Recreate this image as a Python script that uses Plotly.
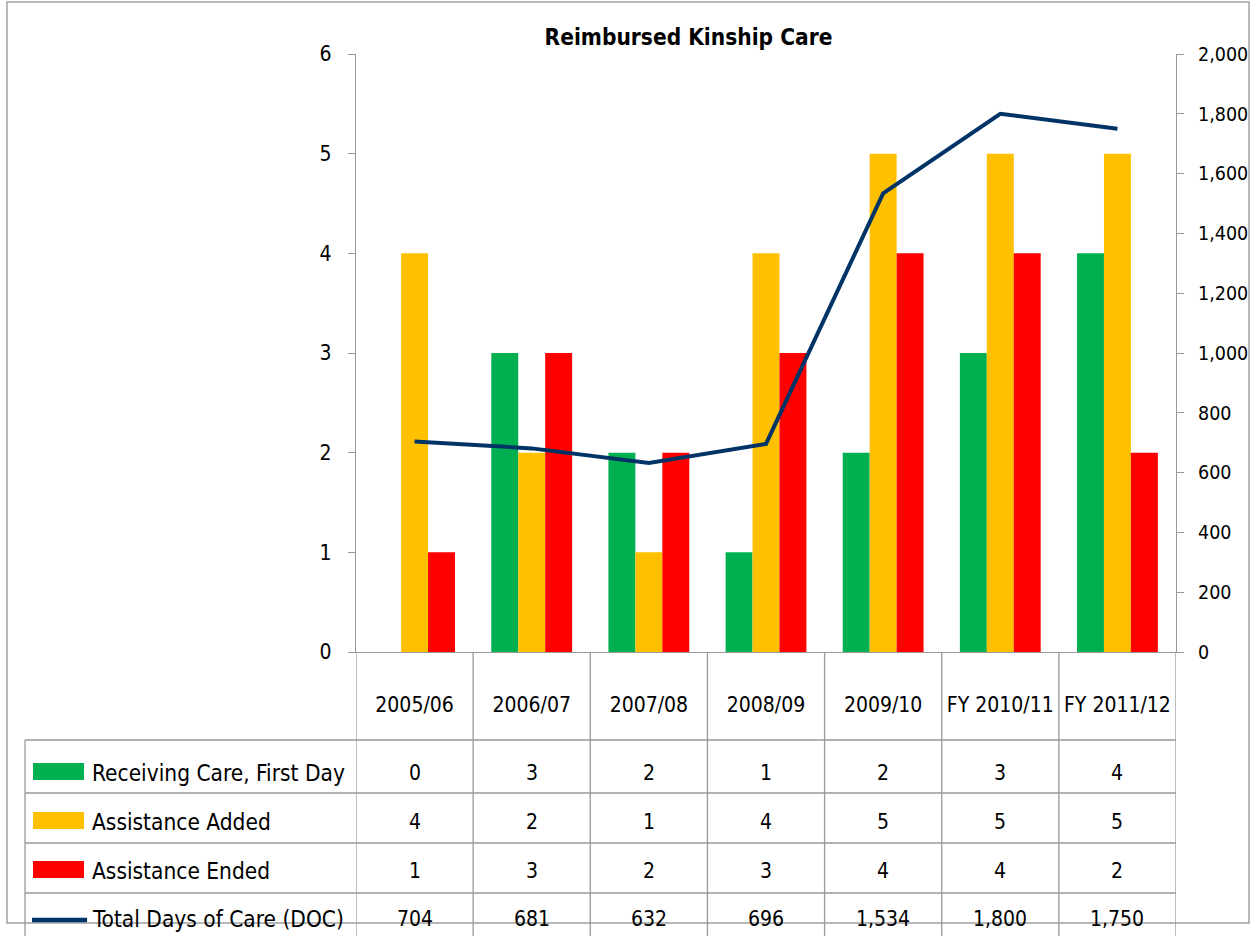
import plotly.graph_objects as go

# ---- data ----
categories = ["2005/06", "2006/07", "2007/08", "2008/09", "2009/10", "FY 2010/11", "FY 2011/12"]
receiving_first_day = [0, 3, 2, 1, 2, 3, 4]
assistance_added = [4, 2, 1, 4, 5, 5, 5]
assistance_ended = [1, 3, 2, 3, 4, 4, 2]
total_days_of_care = [704, 681, 632, 696, 1534, 1800, 1750]

series_names = ["Receiving Care, First Day", "Assistance Added", "Assistance Ended", "Total Days of Care (DOC)"]
colors = ["#00B050", "#FFC000", "#FF0000", "#003366"]

# ---- layout geometry (pixels) ----
W, H = 1257, 936
PL, PR, PT, PB = 356, 1176, 54, 652
FONT = "DejaVu Sans Condensed, DejaVu Sans, sans-serif"
GRID = "#999999"


def px_x(p):
    return (p - PL) / (PR - PL)


def px_y(p):
    return (PB - p) / (PB - PT)


fig = go.Figure()
bar_series = [receiving_first_day, assistance_added, assistance_ended]
for name, vals, col in zip(series_names[:3], bar_series, colors[:3]):
    fig.add_trace(go.Bar(x=categories, y=vals, name=name, marker=dict(color=col, line=dict(width=0)),
                         yaxis="y"))
fig.add_trace(go.Scatter(x=categories, y=total_days_of_care, name=series_names[3], mode="lines",
                         line=dict(color=colors[3], width=4), yaxis="y2"))

shapes = []
annotations = []

# outer frame
shapes.append(dict(type="rect", xref="paper", yref="paper", x0=px_x(7), x1=px_x(1249),
                   y0=px_y(923), y1=px_y(2), line=dict(color="#A0A0A0", width=1.5), layer="below"))

# table grid: vertical lines at category boundaries
n = len(categories)
for i in range(n + 1):
    shapes.append(dict(type="line", xref="x", yref="paper", x0=i - 0.5, x1=i - 0.5,
                       y0=px_y(652), y1=px_y(940), line=dict(color=GRID, width=1.3)))
# left border of table
shapes.append(dict(type="line", xref="paper", yref="paper", x0=px_x(25), x1=px_x(25),
                   y0=px_y(740), y1=px_y(940), line=dict(color=GRID, width=1.3)))
# horizontal row lines
row_lines = [740, 793, 843, 893]
for yl in row_lines:
    shapes.append(dict(type="line", xref="paper", yref="paper", x0=px_x(25), x1=px_x(PR),
                       y0=px_y(yl), y1=px_y(yl), line=dict(color=GRID, width=1.3)))

# rows: legend keys, labels and values
row_centers = [773, 822, 871, 919]
table_rows = [receiving_first_day, assistance_added, assistance_ended, total_days_of_care]
for r, (name, col, vals, yc) in enumerate(zip(series_names, colors, table_rows, row_centers)):
    if r < 3:
        shapes.append(dict(type="rect", xref="paper", yref="paper", x0=px_x(33), x1=px_x(84),
                           y0=px_y(yc - 10), y1=px_y(yc + 7), fillcolor=col, line=dict(width=0)))
    else:
        shapes.append(dict(type="line", xref="paper", yref="paper", x0=px_x(32), x1=px_x(87),
                           y0=px_y(yc + 1), y1=px_y(yc + 1), line=dict(color=col, width=4.5)))
    annotations.append(dict(text=name, xref="paper", yref="paper", x=px_x(90), y=px_y(yc),
                            xanchor="left", yanchor="middle", showarrow=False,
                            font=dict(family=FONT, size=22.5, color="#000000")))
    for c, v in zip(categories, vals):
        annotations.append(dict(text=f"{v:,}", xref="x", yref="paper", x=c, y=px_y(yc),
                                xanchor="center", yanchor="middle", showarrow=False,
                                font=dict(family=FONT, size=21, color="#000000")))

fig.update_layout(
    width=W, height=H,
    margin=dict(l=PL, r=W - PR, t=PT, b=H - PB),
    paper_bgcolor="white", plot_bgcolor="white",
    barmode="group", bargap=0.31, bargroupgap=0,
    showlegend=False,
    title=dict(text="<b>Reimbursed Kinship Care</b>", x=688.5 / W, xanchor="center",
               y=1 - 37 / H, yanchor="middle", xref="container", yref="container",
               font=dict(family=FONT, size=22.5, color="#000000")),
    xaxis=dict(type="category", range=[-0.5, n - 0.5], showline=True, linecolor=GRID, linewidth=1.3,
               ticks="", showgrid=False, ticklabelstandoff=34, tickangle=0, automargin=False,
               tickfont=dict(family=FONT, size=21, color="#000000")),
    yaxis=dict(range=[0, 6], dtick=1, showline=True, linecolor=GRID, linewidth=1.3, ticks="outside",
               ticklen=7, tickcolor=GRID, showgrid=False, zeroline=False, ticklabelstandoff=12,
               automargin=False, tickfont=dict(family=FONT, size=21, color="#000000")),
    yaxis2=dict(range=[0, 2000], dtick=200, overlaying="y", side="right", tickformat=",",
                showline=True, linecolor=GRID, linewidth=1.3, ticks="outside", ticklen=7,
                tickcolor=GRID, showgrid=False, zeroline=False, ticklabelstandoff=10,
                automargin=False, tickfont=dict(family=FONT, size=19.5, color="#000000")),
    shapes=shapes,
    annotations=annotations,
)

fig.write_html("out.html", config={"displayModeBar": False},
               post_script="document.body.style.margin='0';document.body.style.overflow='hidden';")
